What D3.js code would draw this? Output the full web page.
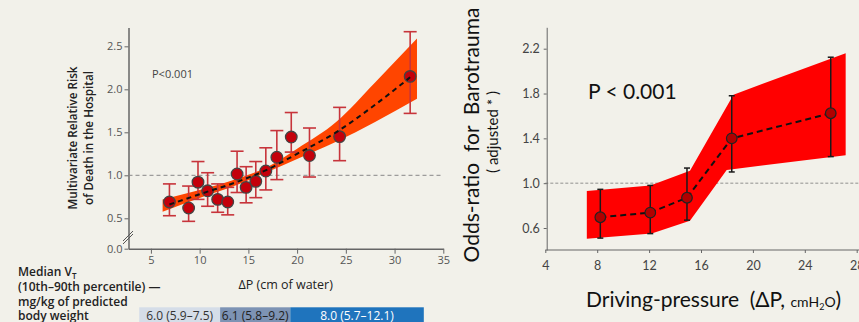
<!DOCTYPE html>
<html lang="en">
<head>
<meta charset="UTF-8">
<title>Driving pressure: mortality and barotrauma</title>
<script src="https://d3js.org/d3.v7.min.js"></script>
<style type="text/css">
    body { margin: 0; background: #f2f1ea; }
    svg { display: block; background: #f2f1ea; }
    .left text { font-family: "Open Sans", "DejaVu Sans", sans-serif; }
    .right text { font-family: Lato, "Open Sans", sans-serif; }
    .axis path, .axis line { stroke: #666; }
    .left .axis text { fill: #555; font-size: 11px; }
    .right .axis text { fill: #444; font-size: 12.5px; }
</style>
</head>
<body>
<script type="text/javascript">
    // ---- left panel: mortality vs driving pressure ----
    const mortDP   = [6.9, 8.87, 9.83, 10.82, 11.85, 12.88, 13.84, 14.77, 15.76, 16.79, 17.92, 19.4, 21.27, 24.36, 31.6];
    const mortRR   = [0.69, 0.62, 0.92, 0.82, 0.72, 0.69, 1.015, 0.86, 0.93, 1.05, 1.21, 1.445, 1.23, 1.45, 2.15];
    const mortLow  = [0.53, 0.45, 0.72, 0.64, 0.57, 0.54, 0.80, 0.68, 0.74, 0.83, 0.95, 1.27, 0.98, 1.17, 1.72];
    const mortHigh = [0.90, 0.875, 1.16, 1.03, 0.90, 0.86, 1.28, 1.10, 1.16, 1.32, 1.52, 1.73, 1.55, 1.79, 2.67];

    const fitX    = [6.2, 10, 14, 17, 20, 24, 28, 32.3];
    const fitLow  = [0.575, 0.735, 0.895, 1.04, 1.19, 1.39, 1.62, 1.89];
    const fitHigh = [0.72, 0.83, 0.965, 1.10, 1.31, 1.62, 2.08, 2.59];
    const fitLineX = [6.9, 10, 14, 17, 20, 24, 28, 31.6];
    const fitLineY = [0.66, 0.78, 0.93, 1.07, 1.25, 1.50, 1.82, 2.14];

    const leftXTicks = [5, 10, 15, 20, 25, 30, 35];
    const leftYTicks = [0, 0.5, 1.0, 1.5, 2.0, 2.5];

    const vtBreaks = [3.8, 12.1, 19.3, 33];
    const vtLabels = ["6.0 (5.9–7.5)", "6.1 (5.8–9.2)", "8.0 (5.7–12.1)"];
    const vtColors = ["#d5dde8", "#7d93b4", "#1f74bd"];
    const vtTextColors = ["#333", "#222", "#fff"];

    // ---- right panel: barotrauma vs driving pressure ----
    const baroDP   = [8.24, 12.09, 14.92, 18.37, 26.0];
    const baroOR   = [0.696, 0.737, 0.87, 1.40, 1.624];
    const baroLow  = [0.51, 0.55, 0.67, 1.10, 1.237];
    const baroHigh = [0.945, 0.98, 1.135, 1.78, 2.124];

    const bandTopX = [7.2, 12.1, 15.15, 18.5, 27.15];
    const bandTopY = [0.93, 0.98, 1.11, 1.79, 2.16];
    const bandBotX = [7.2, 12.2, 15.15, 17.98, 27.15];
    const bandBotY = [0.505, 0.55, 0.665, 1.118, 1.25];

    const rightXTicks = [4, 8, 12, 16, 20, 24, 28];
    const rightYTicks = [0.6, 1.0, 1.4, 1.8, 2.2];

    const width = 859;
    const height = 322;

    const svg = d3.select("body")
        .append("svg")
        .attr("width", width)
        .attr("height", height);

    // ================= left =================
    const L = svg.append("g").attr("class", "left");

    const x1 = d3.scaleLinear().domain([2.7, 35]).range([128.5, 443.3]);
    // broken axis: 0.0 sits closer than linear
    const y1 = d3.scaleLinear().domain([0, 0.5, 2.72]).range([248.7, 218.3, 27.4]);

    L.append("g")
        .attr("class", "axis")
        .attr("transform", "translate(0,248.7)")
        .call(d3.axisBottom(x1).tickValues(leftXTicks).tickSize(5).tickPadding(3).tickSizeOuter(0))
        .call(g => g.select(".domain").attr("stroke", "#666").attr("stroke-width", 1.5));

    L.append("g")
        .attr("class", "axis")
        .attr("transform", "translate(128.5,0)")
        .call(d3.axisLeft(y1).tickValues(leftYTicks).tickFormat(d3.format(".1f")).tickSize(4).tickPadding(2).tickSizeOuter(0))
        .call(g => g.select(".domain").attr("stroke", "#666").attr("stroke-width", 1.5));

    // axis break marks
    [0, 3].forEach(off => {
        L.append("line")
            .attr("x1", 123).attr("y1", 241 + off)
            .attr("x2", 133).attr("y2", 231 + off)
            .attr("stroke", "#555").attr("stroke-width", 1);
    });

    // reference line at 1.0
    L.append("line")
        .attr("x1", x1(2.7)).attr("x2", x1(35))
        .attr("y1", y1(1)).attr("y2", y1(1))
        .attr("stroke", "#888").attr("stroke-width", 1)
        .attr("stroke-dasharray", "4,3");

    const fitData = fitX.map((d, i) => ({ x: d, lo: fitLow[i], hi: fitHigh[i] }));
    L.append("path")
        .datum(fitData)
        .attr("fill", "#ff4500")
        .attr("d", d3.area()
            .x(d => x1(d.x))
            .y0(d => y1(d.lo))
            .y1(d => y1(d.hi))
            .curve(d3.curveMonotoneX));

    const mort = mortDP.map((d, i) => ({ x: d, y: mortRR[i], lo: mortLow[i], hi: mortHigh[i] }));

    const eb = L.append("g").attr("stroke", "#c7343b").attr("stroke-width", 1.6).attr("fill", "none");
    mort.forEach(d => {
        eb.append("line").attr("x1", x1(d.x)).attr("x2", x1(d.x)).attr("y1", y1(d.lo)).attr("y2", y1(d.hi));
        eb.append("line").attr("x1", x1(d.x) - 6.5).attr("x2", x1(d.x) + 6.5).attr("y1", y1(d.lo)).attr("y2", y1(d.lo));
        eb.append("line").attr("x1", x1(d.x) - 6.5).attr("x2", x1(d.x) + 6.5).attr("y1", y1(d.hi)).attr("y2", y1(d.hi));
    });

    const fitLine = fitLineX.map((d, i) => ({ x: d, y: fitLineY[i] }));

    L.selectAll("circle.pt")
        .data(mort)
        .join("circle")
        .attr("class", "pt")
        .attr("cx", d => x1(d.x))
        .attr("cy", d => y1(d.y))
        .attr("r", 5.8)
        .attr("fill", "#c4000b")
        .attr("stroke", "#444")
        .attr("stroke-width", 1.3);

    L.append("path")
        .datum(fitLine)
        .attr("fill", "none")
        .attr("stroke", "#111")
        .attr("stroke-width", 2)
        .attr("stroke-dasharray", "5,4")
        .attr("d", d3.line().x(d => x1(d.x)).y(d => y1(d.y)).curve(d3.curveMonotoneX));

    L.append("text")
        .attr("x", 152).attr("y", 78)
        .attr("fill", "#444").style("font-size", "11px")
        .text("P<0.001");

    const ytl = L.append("text")
        .attr("transform", "translate(77,138) rotate(-90)")
        .attr("text-anchor", "middle")
        .attr("fill", "#222")
        .style("font-size", "11.7px")
        .style("font-weight", 600);
    ytl.append("tspan").attr("x", 0).attr("dy", 0).text("Multivariate Relative Risk");
    ytl.append("tspan").attr("x", 0).attr("dy", 15.5).text("of Death in the Hospital");

    L.append("text")
        .attr("x", 285.7).attr("y", 288.5)
        .attr("text-anchor", "middle")
        .attr("fill", "#222")
        .style("font-size", "12.5px")
        .style("font-weight", 500)
        .text("ΔP (cm of water)");

    const vt = L.append("text")
        .attr("fill", "#222")
        .style("font-size", "12px")
        .style("font-weight", 600);
    const vt1 = vt.append("tspan").attr("x", 18).attr("y", 276);
    vt1.append("tspan").text("Median V");
    vt1.append("tspan").attr("dy", 2.5).style("font-size", "8px").text("T");
    vt.append("tspan").attr("x", 18).attr("y", 291).text("(10th–90th percentile) —");
    vt.append("tspan").attr("x", 18).attr("y", 305.5).text("mg/kg of predicted");
    vt.append("tspan").attr("x", 18).attr("y", 319.5).text("body weight");

    vtLabels.forEach((lab, i) => {
        const xa = x1(vtBreaks[i]), xb = x1(vtBreaks[i + 1]);
        L.append("rect")
            .attr("x", xa).attr("y", 307.3)
            .attr("width", xb - xa).attr("height", 16)
            .attr("fill", vtColors[i]);
        L.append("text")
            .attr("x", (xa + xb) / 2).attr("y", 319.5)
            .attr("text-anchor", "middle")
            .attr("fill", vtTextColors[i])
            .style("font-size", "12px")
            .text(lab);
    });

    // ================= right =================
    const R = svg.append("g").attr("class", "right");

    const x2 = d3.scaleLinear().domain([4, 28]).range([545.3, 856.7]);
    const y2 = d3.scaleLinear().domain([0.6, 2.2]).range([228, 48.7]);
    const y2min = y2.invert(250);
    const y2max = y2.invert(27.3);

    R.append("line")
        .attr("x1", x2(4)).attr("x2", 859)
        .attr("y1", y2(1)).attr("y2", y2(1))
        .attr("stroke", "#777").attr("stroke-width", 0.8)
        .attr("stroke-dasharray", "3,2");

    R.append("g")
        .attr("class", "axis")
        .attr("transform", "translate(0,250)")
        .call(d3.axisBottom(x2).tickValues(rightXTicks).tickSize(3).tickPadding(8).tickSizeOuter(0))
        .call(g => g.select(".domain").attr("d", `M${x2(4)},0H859`).attr("stroke", "#777"));

    R.append("g")
        .attr("class", "axis")
        .attr("transform", `translate(${x2(4) + 1.4},0)`)
        .call(d3.axisLeft(y2.copy().domain([y2min, y2max]).range([250, 27.3])).tickValues(rightYTicks).tickFormat(d3.format(".1f")).tickSize(3).tickPadding(4).tickSizeOuter(0))
        .call(g => g.select(".domain").attr("stroke", "#777"));

    const bandPts = bandTopX.map((d, i) => [x2(d), y2(bandTopY[i])])
        .concat(bandBotX.map((d, i) => [x2(d), y2(bandBotY[i])]).reverse());
    R.append("path")
        .attr("fill", "#ff0000")
        .attr("d", d3.line()(bandPts) + "Z");

    const baro = baroDP.map((d, i) => ({ x: d, y: baroOR[i], lo: baroLow[i], hi: baroHigh[i] }));

    const eb2 = R.append("g").attr("stroke", "#1a1a1a").attr("stroke-width", 1.5);
    baro.forEach(d => {
        eb2.append("line").attr("x1", x2(d.x)).attr("x2", x2(d.x)).attr("y1", y2(d.lo)).attr("y2", y2(d.hi));
        eb2.append("line").attr("x1", x2(d.x) - 3).attr("x2", x2(d.x) + 3).attr("y1", y2(d.lo)).attr("y2", y2(d.lo));
        eb2.append("line").attr("x1", x2(d.x) - 3).attr("x2", x2(d.x) + 3).attr("y1", y2(d.hi)).attr("y2", y2(d.hi));
    });

    R.append("path")
        .datum(baro)
        .attr("fill", "none")
        .attr("stroke", "#111")
        .attr("stroke-width", 2)
        .attr("stroke-dasharray", "6,4")
        .attr("d", d3.line().x(d => x2(d.x)).y(d => y2(d.y)));

    R.selectAll("circle.pt")
        .data(baro)
        .join("circle")
        .attr("class", "pt")
        .attr("cx", d => x2(d.x))
        .attr("cy", d => y2(d.y))
        .attr("r", 5.3)
        .attr("fill", "#b00000")
        .attr("stroke", "#222")
        .attr("stroke-width", 1.2);

    R.append("text")
        .attr("x", 588).attr("y", 99)
        .attr("fill", "#111")
        .style("font-size", "21px")
        .text("P < 0.001");

    R.append("text")
        .attr("transform", "translate(479,135) rotate(-90)")
        .attr("text-anchor", "middle")
        .attr("fill", "#111")
        .style("font-size", "21px")
        .attr("xml:space", "preserve")
        .text("Odds-ratio  for  Barotrauma");

    R.append("text")
        .attr("transform", "translate(498,132) rotate(-90)")
        .attr("text-anchor", "middle")
        .attr("fill", "#111")
        .style("font-size", "15px")
        .attr("xml:space", "preserve")
        .text("( adjusted * )");

    const xt = R.append("text")
        .attr("x", 586).attr("y", 307)
        .attr("fill", "#111")
        .style("font-size", "21px")
        .attr("xml:space", "preserve");
    xt.append("tspan").text("Driving-pressure  (ΔP, ");
    xt.append("tspan").style("font-size", "14px").text("cmH");
    xt.append("tspan").style("font-size", "9px").attr("dy", 3).text("2");
    xt.append("tspan").style("font-size", "14px").attr("dy", -3).text("O");
    xt.append("tspan").text(")");
</script>
</body>
</html>
